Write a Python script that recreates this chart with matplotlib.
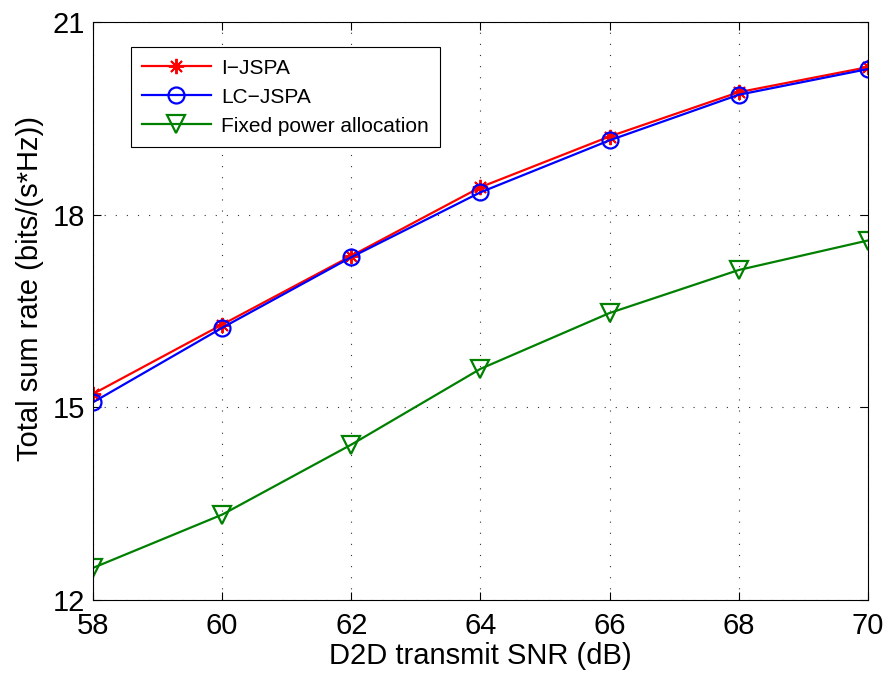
import matplotlib

matplotlib.use("Agg")
import matplotlib.pyplot as plt

snr = [58, 60, 62, 64, 66, 68, 70]
i_jspa = [15.21, 16.29, 17.36, 18.43, 19.22, 19.91, 20.30]
lc_jspa = [15.08, 16.24, 17.34, 18.35, 19.16, 19.87, 20.27]
fixed = [12.50, 13.33, 14.42, 15.60, 16.47, 17.14, 17.60]

plt.rcParams["font.family"] = ["Liberation Sans", "DejaVu Sans"]

fig = plt.figure(figsize=(8.9, 6.74), dpi=100)
ax = fig.add_axes([0.1045, 0.1098, 0.8705, 0.8572])

# matlab-style '*' = plus + cross
asterisk = (8, 2, 0)
ax.plot(snr, i_jspa, color="red", marker=asterisk, markersize=11, linewidth=1.6,
        markeredgewidth=1.4, label="I\u2212JSPA")
ax.plot(snr, lc_jspa, color="blue", marker="o", markersize=11.5, linewidth=1.6,
        markerfacecolor="none", markeredgewidth=1.6, label="LC\u2212JSPA")
ax.plot(snr, fixed, color="#008000", marker="v", markersize=13, linewidth=1.6,
        markerfacecolor="none", markeredgewidth=1.6, label="Fixed power allocation")

ax.set_xlim(58, 70)
ax.set_ylim(12, 21)
ax.set_xticks(snr)
ax.set_yticks([12, 15, 18, 21])
ax.tick_params(direction="in", top=True, right=True, labelsize=21, length=6, width=0.8)
ax.tick_params(axis="x", pad=9)
ax.tick_params(axis="y", pad=6)
ax.grid(True, linestyle=(0, (1, 9)), color="#333333", linewidth=0.8)
ax.set_xlabel("D2D transmit SNR (dB)", fontsize=21, labelpad=1)
ax.set_ylabel("Total sum rate (bits/(s*Hz))", fontsize=21)
ax.yaxis.set_label_coords(-0.063, 0.54)

leg = ax.legend(loc="upper left", bbox_to_anchor=(0.0486, 0.957), borderaxespad=0,
                fontsize=15, fancybox=False, edgecolor="black", framealpha=1,
                handlelength=3.3, handletextpad=0.5, borderpad=0.55, labelspacing=0.48)
leg.get_frame().set_linewidth(0.8)

fig.savefig("out.png", dpi=100)
